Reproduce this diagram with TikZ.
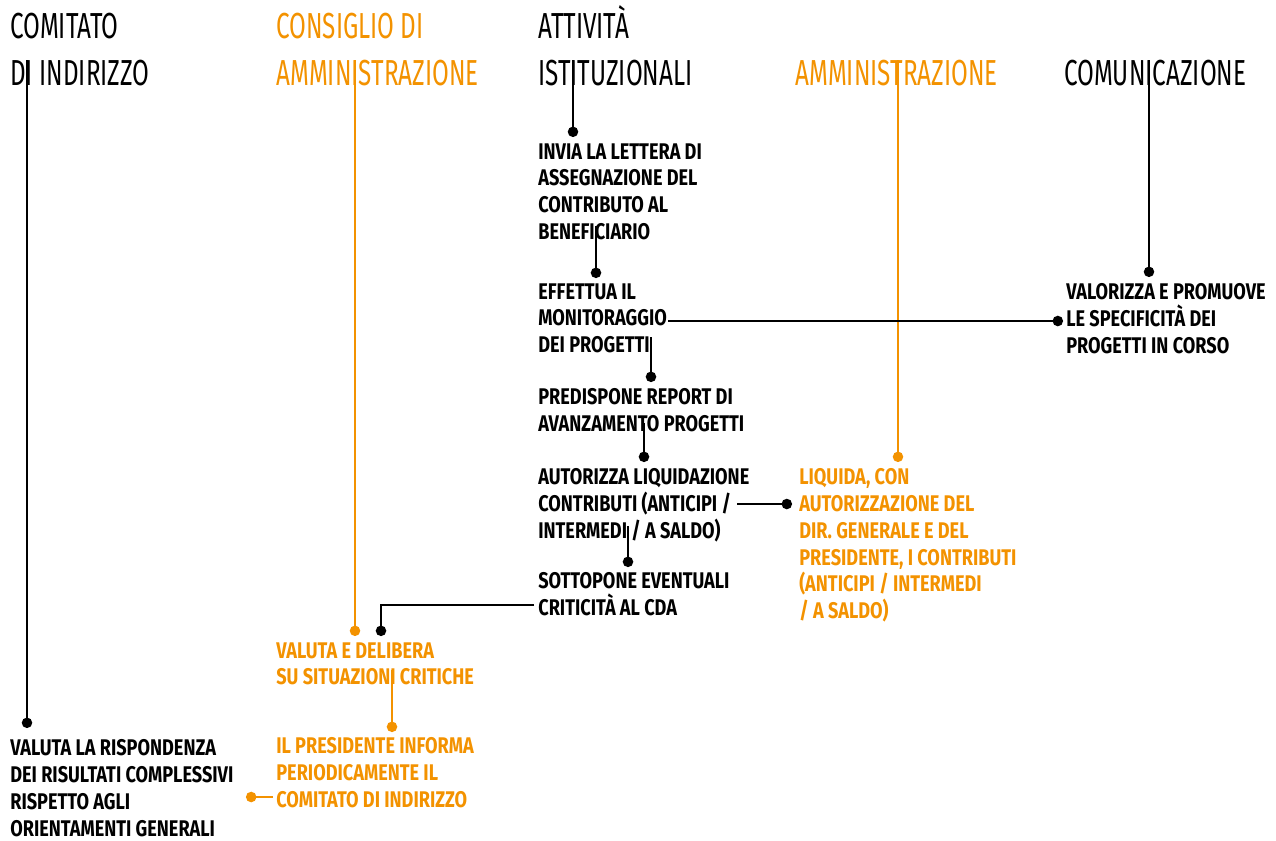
\documentclass[tikz,border=0pt]{standalone}
\usepackage{fontspec}
\usetikzlibrary{arrows.meta,positioning}
\newfontfamily\headfont{Fira Sans}[FakeStretch=0.67]
\newfontfamily\bodyfont{Fira Sans}[FakeStretch=0.8]
\definecolor{cdaorange}{RGB}{243,146,0}

\begin{document}
\begin{tikzpicture}%
    [x=0.02cm, y=-0.02cm,
    >={Circle[length=5.9pt]},
    head/.style={anchor=north west, inner sep=0pt, align=left,
                 font=\headfont\fontsize{20.6}{26.6}\selectfont},
    task/.style={anchor=north west, inner sep=0pt, align=left,
                 font=\bodyfont\bfseries\fontsize{12.9}{15.3}\selectfont},
    cda/.style={text=cdaorange},
    office/.style={draw=black, line width=1.1pt, ->},
    link/.style={draw=black, line width=1.5pt, ->}
    ]
    \useasboundingbox (0,0) rectangle (1276,840);

    % offices
    \node[head]     (comitato)  at (10,13)   {COMITATO\\DI INDIRIZZO};
    \node[head,cda] (consiglio) at (276,13)  {CONSIGLIO DI\\AMMINISTRAZIONE};
    \node[head]     (attivita)  at (538,5)   {ATTIVITÀ\\ISTITUZIONALI};
    \node[head,cda] (amministr) at (795,60)  {AMMINISTRAZIONE};
    \node[head]     (comunic)   at (1064,60) {COMUNICAZIONE};

    % tasks
    \node[task] (invia)     at (538,143) {INVIA LA LETTERA DI\\ASSEGNAZIONE DEL\\CONTRIBUTO AL\\BENEFICIARIO};
    \node[task] (effettua)  at (538,283) {EFFETTUA IL\\MONITORAGGIO\\DEI PROGETTI};
    \node[task] (predispone) at (538,388) {PREDISPONE REPORT DI\\AVANZAMENTO PROGETTI};
    \node[task] (autorizza) at (538,468) {AUTORIZZA LIQUIDAZIONE\\CONTRIBUTI (ANTICIPI /\\INTERMEDI / A SALDO)};
    \node[task] (sottopone) at (538,572) {SOTTOPONE EVENTUALI\\CRITICITÀ AL CDA};
    \node[task,cda] (liquida) at (799,468) {LIQUIDA, CON\\AUTORIZZAZIONE DEL\\DIR. GENERALE E DEL\\PRESIDENTE, I CONTRIBUTI\\(ANTICIPI / INTERMEDI\\/ A SALDO)};
    \node[task] (valorizza) at (1066,283) {VALORIZZA E PROMUOVE\\LE SPECIFICITÀ DEI\\PROGETTI IN CORSO};
    \node[task,cda] (valuta) at (276,642) {VALUTA E DELIBERA\\SU SITUAZIONI CRITICHE};
    \node[task,cda] (presidente) at (276,737) {IL PRESIDENTE INFORMA\\PERIODICAMENTE IL\\COMITATO DI INDIRIZZO};
    \node[task] (rispondenza) at (10,739) {VALUTA LA RISPONDENZA\\DEI RISULTATI COMPLESSIVI\\RISPETTO AGLI\\ORIENTAMENTI GENERALI};

    % ends of the lines
    \coordinate (comitato-s)  at (27,60);    \coordinate (rispondenza-n) at (27,728);
    \coordinate (consiglio-s) at (355,60);   \coordinate (valuta-n1)     at (355,636);
    \coordinate (attivita-s)  at (573,60);   \coordinate (invia-n)       at (573,137);
    \coordinate (amministr-s) at (898,60);   \coordinate (liquida-n)     at (898,462);
    \coordinate (comunic-s)   at (1149,60);  \coordinate (valorizza-n)   at (1149,277);
    \coordinate (invia-s)     at (596,226);  \coordinate (effettua-n)    at (596,278);
    \coordinate (effettua-e)  at (668,321);  \coordinate (valorizza-w)   at (1063,321);
    \coordinate (effettua-s)  at (651,337);  \coordinate (predispone-n)  at (651,382);
    \coordinate (predispone-s) at (644,423); \coordinate (autorizza-n)   at (644,462);
    \coordinate (autorizza-e) at (737,504);  \coordinate (liquida-w)     at (792,504);
    \coordinate (autorizza-s) at (628,526);  \coordinate (sottopone-n)   at (628,567);
    \coordinate (sottopone-w) at (534,605);  \coordinate (valuta-n2)     at (381,636);
    \coordinate (valuta-s)    at (392,670);  \coordinate (presidente-n)  at (392,732);
    \coordinate (presidente-w) at (273,797); \coordinate (rispondenza-e) at (246,797);

    \path[every edge/.style={office}]
    % FROM           COLOUR                 TO
    (comitato-s)  edge                    (rispondenza-n)
    (consiglio-s) edge[draw=cdaorange]    (valuta-n1)
    (attivita-s)  edge                    (invia-n)
    (amministr-s) edge[draw=cdaorange]    (liquida-n)
    (comunic-s)   edge                    (valorizza-n)
    ;
    \path[every edge/.style={link}]
    % FROM           COLOUR / ROUTE         TO
    (invia-s)      edge                   (effettua-n)
    (effettua-e)   edge                   (valorizza-w)
    (effettua-s)   edge                   (predispone-n)
    (predispone-s) edge                   (autorizza-n)
    (autorizza-e)  edge                   (liquida-w)
    (autorizza-s)  edge                   (sottopone-n)
    (sottopone-w)  edge[to path={-| (\tikztotarget)}] (valuta-n2)
    (valuta-s)     edge[draw=cdaorange]   (presidente-n)
    (presidente-w) edge[draw=cdaorange]   (rispondenza-e)
    ;
\end{tikzpicture}
\end{document}
